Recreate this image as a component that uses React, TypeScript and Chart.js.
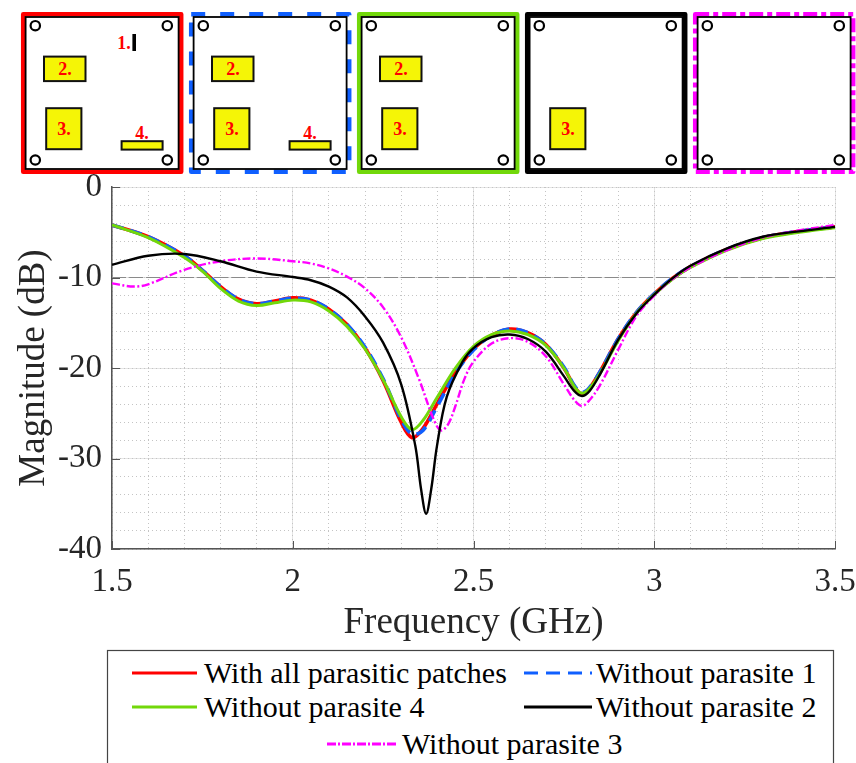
import React, { useEffect, useRef } from "react";
import { Chart, registerables } from "chart.js";

Chart.register(...registerables);

const FONT = "'Liberation Serif', 'Times New Roman', serif";

const allFreq = [1.5, 1.6, 1.7, 1.75, 1.8, 1.85, 1.9, 1.95, 2.0, 2.05, 2.1, 2.15, 2.2, 2.25, 2.3, 2.33, 2.36, 2.4, 2.45, 2.5, 2.55, 2.6, 2.65, 2.7, 2.75, 2.78, 2.8, 2.82, 2.85, 2.9, 2.95, 3.0, 3.05, 3.1, 3.2, 3.3, 3.4, 3.5];
const withAll = [-4.2, -5.5, -7.6, -9.2, -11.0, -12.4, -12.9, -12.6, -12.25, -12.5, -13.5, -15.2, -17.8, -21.4, -26.0, -27.7, -26.7, -23.9, -20.5, -17.9, -16.4, -15.7, -16.1, -17.4, -20.0, -22.1, -22.9, -22.3, -20.4, -16.8, -13.9, -11.8, -10.1, -8.8, -6.9, -5.6, -4.9, -4.4];
const noParasite1 = [-4.2, -5.5, -7.6, -9.2, -11.0, -12.4, -12.9, -12.6, -12.3, -12.5, -13.5, -15.2, -17.7, -21.2, -25.7, -27.3, -26.9, -24.2, -20.6, -18.0, -16.4, -15.7, -16.1, -17.4, -19.9, -22.0, -22.7, -22.2, -20.4, -16.8, -13.9, -11.8, -10.1, -8.8, -6.9, -5.6, -4.9, -4.4];
const noParasite4 = [-4.2, -5.6, -7.8, -9.3, -11.2, -12.6, -13.1, -12.8, -12.5, -12.7, -13.7, -15.4, -17.9, -21.3, -25.4, -26.8, -25.8, -23.2, -20.0, -17.6, -16.3, -15.9, -16.3, -17.5, -20.0, -22.1, -22.8, -22.3, -20.6, -17.0, -14.0, -11.9, -10.2, -8.9, -7.0, -5.7, -5.0, -4.5];

const noParasite2Freq = [1.5, 1.6, 1.7, 1.8, 1.9, 2.0, 2.05, 2.1, 2.15, 2.2, 2.25, 2.3, 2.339, 2.355, 2.369, 2.383, 2.399, 2.426, 2.47, 2.5, 2.55, 2.6, 2.65, 2.7, 2.75, 2.78, 2.8, 2.82, 2.85, 2.9, 2.95, 3.0, 3.05, 3.1, 3.2, 3.3, 3.4, 3.5];
const noParasite2 = [-8.6, -7.6, -7.4, -8.2, -9.35, -9.95, -10.3, -11.0, -12.2, -14.3, -17.2, -21.8, -28.6, -33.4, -36.1, -33.4, -28.6, -23.2, -19.3, -17.8, -16.6, -16.3, -16.8, -18.2, -20.9, -22.6, -23.1, -22.6, -20.7, -16.9, -14.0, -11.9, -10.1, -8.7, -6.8, -5.5, -4.9, -4.4];

const noParasite3Freq = [1.5, 1.56, 1.6, 1.7, 1.8, 1.9, 2.0, 2.05, 2.1, 2.15, 2.2, 2.25, 2.3, 2.35, 2.39, 2.41, 2.43, 2.45, 2.475, 2.5, 2.55, 2.6, 2.65, 2.7, 2.75, 2.78, 2.8, 2.82, 2.85, 2.9, 2.95, 3.0, 3.05, 3.1, 3.2, 3.3, 3.4, 3.5];
const noParasite3 = [-10.65, -11.0, -10.75, -9.15, -8.2, -7.9, -8.2, -8.45, -9.0, -9.9, -11.2, -13.3, -16.6, -21.3, -25.7, -26.9, -26.2, -24.2, -21.2, -19.3, -17.3, -16.7, -17.1, -18.7, -21.8, -23.6, -24.2, -23.6, -21.9, -18.0, -14.3, -12.0, -10.2, -8.9, -7.0, -5.6, -4.8, -4.2];

const thresholdFreq = [1.5, 3.5];
const thresholdValue = [-10, -10];

const xTicks = { min: 1.5, max: 3.5, major: 0.5, minor: 0.1 };
const yTicks = { min: -40, max: 0, major: 10, minor: 2 };

const legendRows = [
  { label: "With all parasitic patches", color: "#ff0000", dash: "", x1: 132, x2: 197, tx: 204, y: 673 },
  { label: "Without parasite 1", color: "#0f5fff", dash: "14 8", x1: 524, x2: 592, tx: 596, y: 673 },
  { label: "Without parasite 4", color: "#72d80a", dash: "", x1: 132, x2: 197, tx: 204, y: 707 },
  { label: "Without parasite 2", color: "#000000", dash: "", x1: 524, x2: 592, tx: 596, y: 707 },
  { label: "Without parasite 3", color: "#ff00ff", dash: "9 2 2 2", x1: 327, x2: 397, tx: 402, y: 744 },
];

const panels = [
  { dx: 0, color: "#ff0000", dash: "", width: 4.5, patches: [1, 2, 3, 4] },
  { dx: 168, color: "#0f5fff", dash: "14 15", width: 4.5, patches: [2, 3, 4] },
  { dx: 336, color: "#72d80a", dash: "", width: 4.5, patches: [2, 3] },
  { dx: 504, color: "#000000", dash: "", width: 4.5, patches: [3] },
  { dx: 672, color: "#ff00ff", dash: "14 4 5 4", width: 4.5, patches: [] as number[] },
];

const points = (xs: number[], ys: number[]) => xs.map((x, i) => ({ x, y: ys[i] }));

const insideTicks = {
  id: "insideTicks",
  afterDatasetsDraw(chart: any) {
    const { ctx, chartArea, scales } = chart;
    ctx.save();
    ctx.strokeStyle = "#555555";
    ctx.lineWidth = 1;
    ctx.beginPath();
    scales.x.ticks.forEach((t: any) => {
      const px = Math.round(scales.x.getPixelForValue(t.value)) + 0.5;
      ctx.moveTo(px, chartArea.bottom);
      ctx.lineTo(px, chartArea.bottom - 8);
    });
    scales.y.ticks.forEach((t: any) => {
      const py = Math.round(scales.y.getPixelForValue(t.value)) + 0.5;
      ctx.moveTo(chartArea.left, py);
      ctx.lineTo(chartArea.left + 8, py);
    });
    ctx.stroke();
    ctx.restore();
  },
};

function Panel({ p }: { p: (typeof panels)[number] }) {
  const hole = (cx: number, cy: number) => (
    <circle key={`${cx}-${cy}`} cx={cx} cy={cy} r={4.7} fill="#fff" stroke="#000" strokeWidth={2.2} />
  );
  const patch = (x: number, y: number, w: number, h: number) => (
    <rect x={x} y={y} width={w} height={h} fill="#f5f506" stroke="#111" strokeWidth={2} />
  );
  const label = (t: string, x: number, y: number) => (
    <text x={x} y={y} fontFamily={FONT} fontWeight="bold" fontSize={18} fill="#ff0000" textAnchor="middle">{t}</text>
  );
  return (
    <g transform={`translate(${p.dx} 0)`}>
      <rect x={23.2} y={14.2} width={158} height={157.6} fill="#fff" stroke={p.color} strokeWidth={p.width} strokeDasharray={p.dash} strokeLinejoin="round" />
      <rect x={25.6} y={17} width={153} height={152} fill="#fff" stroke="#000" strokeWidth={1.8} />
      {hole(35.3, 25.7)}{hole(167.3, 25.7)}{hole(35.3, 160)}{hole(167.3, 160)}
      {p.patches.includes(1) && (
        <g>
          <rect x={132.4} y={34} width={3.6} height={17} fill="#000" />
          {label("1.", 124, 49)}
        </g>
      )}
      {p.patches.includes(2) && <g>{patch(44, 56.6, 41.5, 24.5)}{label("2.", 65, 75)}</g>}
      {p.patches.includes(3) && <g>{patch(46.2, 108.2, 35.2, 41)}{label("3.", 64, 135)}</g>}
      {p.patches.includes(4) && <g>{patch(121.6, 141.2, 41, 8.4)}{label("4.", 142, 139)}</g>}
    </g>
  );
}

export default function App() {
  const ref = useRef<HTMLCanvasElement>(null);
  useEffect(() => {
    const line = (data: any[], color: string, width: number, dash: number[] = []) => ({
      data,
      borderColor: color,
      borderWidth: width,
      borderDash: dash,
      pointRadius: 0,
      tension: 0.35,
      fill: false,
    });
    const tickFont = { family: FONT, size: 33 };
    const titleFont = { family: FONT, size: 37 };
    const chart = new Chart(ref.current!, {
      type: "line",
      data: {
        datasets: [
          { ...line(points(noParasite2Freq, noParasite2), "#000000", 2.4), label: legendRows[3].label },
          { ...line(points(noParasite3Freq, noParasite3), "#ff00ff", 2.4, [8, 2.5, 2, 2.5]), label: legendRows[4].label },
          { ...line(points(allFreq, noParasite4), "#72d80a", 3), label: legendRows[2].label },
          { ...line(points(allFreq, noParasite1), "#0f5fff", 3.6, [12, 7]), label: legendRows[1].label },
          { ...line(points(allFreq, withAll), "#ff0000", 3.6), label: legendRows[0].label },
          { ...line(points(thresholdFreq, thresholdValue), "#8a8a8a", 1, [14, 3]), label: "-10 dB" },
        ],
      },
      options: {
        responsive: false,
        animation: false,
        layout: { padding: { left: 0, right: 21, top: 187, bottom: 118 } },
        plugins: { legend: { display: false }, tooltip: { enabled: false } },
        scales: {
          x: {
            type: "linear",
            min: xTicks.min,
            max: xTicks.max,
            grid: { color: "#e4e4e4", lineWidth: 1, drawTicks: false },
            border: { color: "#555555", width: 1.5 },
            ticks: { stepSize: xTicks.major, font: tickFont, color: "#262626", padding: 14, maxRotation: 0, autoSkip: false, callback: (v: any) => String(v) },
            title: { display: true, text: "Frequency (GHz)", font: titleFont, color: "#262626", padding: { top: 0, bottom: 0 } },
            afterFit: (s: any) => { s.height = 96; s.paddingLeft = 0; s.paddingRight = 0; },
          },
          y: {
            type: "linear",
            min: yTicks.min,
            max: yTicks.max,
            grid: { color: "#e4e4e4", lineWidth: 1, drawTicks: false },
            border: { color: "#555555", width: 1.5 },
            ticks: { stepSize: yTicks.major, font: tickFont, color: "#262626", padding: 10, autoSkip: false, callback: (v: any) => String(v) },
            title: { display: true, text: "Magnitude (dB)", font: titleFont, color: "#262626", padding: { top: 12, bottom: 0 } },
            afterFit: (s: any) => { s.width = 112; s.paddingTop = 0; s.paddingBottom = 0; },
          },
          xMinor: {
            type: "linear",
            position: "bottom",
            min: xTicks.min,
            max: xTicks.max,
            z: -1,
            grid: { color: "#c4c4c4", lineWidth: 1, drawTicks: false },
            border: { display: false, dash: [1, 3] },
            ticks: { display: false, stepSize: xTicks.minor },
            afterFit: (s: any) => { s.height = 0; },
          },
          yMinor: {
            type: "linear",
            position: "left",
            min: yTicks.min,
            max: yTicks.max,
            z: -1,
            grid: { color: "#c4c4c4", lineWidth: 1, drawTicks: false },
            border: { display: false, dash: [1, 3] },
            ticks: { display: false, stepSize: yTicks.minor },
            afterFit: (s: any) => { s.width = 0; },
          },
        },
      } as any,
      plugins: [insideTicks],
    });
    return () => chart.destroy();
  }, []);

  return (
    <div style={{ position: "absolute", left: 0, top: 0, width: 856, height: 763, overflow: "hidden", background: "#fff" }}>
      <canvas ref={ref} width={856} height={763} style={{ position: "absolute", left: 0, top: 0, display: "block" }} />
      <svg width={856} height={763} style={{ position: "absolute", left: 0, top: 0 }}>
        {panels.map((p) => <Panel key={p.dx} p={p} />)}
        <rect x={107.5} y={650.5} width={726} height={130} fill="#fff" stroke="#444" strokeWidth={1.2} />
        {legendRows.map((r) => (
          <g key={r.label}>
            <line x1={r.x1} x2={r.x2} y1={r.y} y2={r.y} stroke={r.color} strokeWidth={3} strokeDasharray={r.dash} />
            <text x={r.tx} y={r.y + 10} fontFamily={FONT} fontSize={30} fill="#000">{r.label}</text>
          </g>
        ))}
      </svg>
    </div>
  );
}
